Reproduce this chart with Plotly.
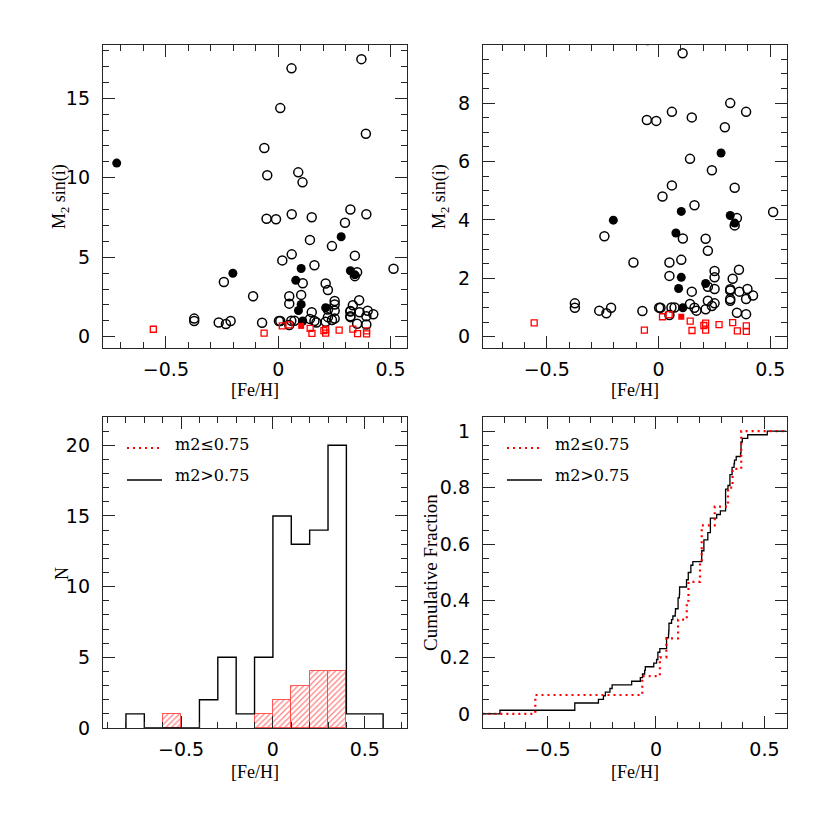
import numpy as np
import plotly.graph_objects as go

# [Fe/H] and M2 sin(i)
# m2 > 0.75, open symbols
feh_open = [0.370, 0.059, 0.009, 0.390, -0.062, 0.089, -0.049,
            0.108, 0.321, 0.392, 0.060, -0.052, -0.010, 0.149, 0.297,
            0.141, 0.239, 0.341, 0.060, 0.018, 0.161, 0.513,
            0.351, 0.341, -0.242, 0.109, 0.211, 0.221, -0.112, 0.049,
            0.102, 0.251, 0.251, 0.360, 0.049, 0.332,
            0.149, 0.221, 0.251, 0.321, 0.321, 0.362, 0.398, 0.423,
            0.321, 0.321, 0.392, 0.221, 0.251, 0.239, 0.211, 0.141,
            0.161, 0.170, 0.351, 0.392,
            -0.374, -0.374, -0.265, -0.233, -0.212, -0.072, 0.003,
            0.009, 0.058, 0.072, 0.049]
msini_open = [17.46, 16.88, 14.38, 12.77, 11.87, 10.34, 10.16,
              9.71, 8.00, 7.70, 7.70, 7.42, 7.39, 7.51, 7.17,
              6.09, 5.70, 5.10, 5.18, 4.80, 4.50, 4.27,
              4.06, 3.81, 3.44, 3.36, 3.35, 2.94, 2.54, 2.54,
              2.63, 2.25, 2.03, 2.29, 2.08, 1.98,
              1.54, 1.71, 1.63, 1.62, 1.58, 1.54, 1.63, 1.41,
              1.29, 1.23, 1.29, 1.23, 1.14, 1.05, 0.94, 1.12,
              0.99, 0.89, 0.82, 0.77,
              1.14, 0.99, 0.89, 0.80, 0.99, 0.88, 0.99,
              0.99, 1.00, 1.00, 0.74]

# m2 > 0.75, filled symbols
feh_filled = [-0.719, 0.280, 0.102, 0.321, 0.341, -0.202, 0.078,
              0.102, 0.211, 0.090, 0.109]
msini_filled = [10.92, 6.29, 4.29, 4.15, 3.89, 3.99, 3.55,
                2.03, 1.82, 1.65, 0.99]

# m2 <= 0.75
feh_low = [-0.556, -0.063, 0.018, 0.048, 0.142, 0.150, 0.203,
           0.211, 0.211, 0.271, 0.332, 0.353, 0.393, 0.393]
msini_low = [0.47, 0.22, 0.68, 0.75, 0.53, 0.21, 0.38,
             0.46, 0.22, 0.41, 0.48, 0.20, 0.37, 0.18]
feh_low_filled = [0.102]
msini_low_filled = [0.68]

bin_edges = np.round(np.arange(-0.8, 0.61, 0.1), 2)

feh_high_all = np.array(feh_open + feh_filled)
feh_low_all = np.array(feh_low + feh_low_filled)

n_high, _ = np.histogram(feh_high_all, bins=bin_edges)
n_low, _ = np.histogram(feh_low_all, bins=bin_edges)
centers = (bin_edges[:-1] + bin_edges[1:]) / 2

# page has an 8px body margin, so the figure is 814 wide and positions
# below are given in screen pixels
W = 814
OFF = 8
def px_x(p):
    return (p - OFF) / W
def px_y(p):
    return 1 - (p - OFF) / W

TICKFONT = dict(family="DejaVu Sans", size=19, color="black")
TITLEFONT = dict(family="Liberation Serif", size=18, color="black")
LINE = "#262626"

def axis(rng, domain, anchor, dtick, minor_dtick, standoff):
    return dict(
        range=rng, domain=domain, anchor=anchor,
        showline=True, mirror="allticks", linecolor=LINE, linewidth=1.4,
        ticks="inside", ticklen=12, tickwidth=1.4, tickcolor=LINE,
        dtick=dtick, tick0=0, tickfont=TICKFONT,
        showgrid=False, zeroline=False, automargin=False,
        ticklabelstandoff=standoff,
        minor=dict(ticks="inside", ticklen=6, tickwidth=1.4, tickcolor=LINE,
                   dtick=minor_dtick, tick0=0, showgrid=False),
    )

fig = go.Figure()

# scatter panels
for xa, ya in (("x", "y"), ("x2", "y2")):
    fig.add_trace(go.Scatter(
        x=feh_open, y=msini_open, mode="markers", xaxis=xa, yaxis=ya,
        marker=dict(symbol="circle-open", size=9, color="black",
                    line=dict(width=1.5, color="black")),
        showlegend=False))
    fig.add_trace(go.Scatter(
        x=feh_filled, y=msini_filled, mode="markers", xaxis=xa, yaxis=ya,
        marker=dict(symbol="circle", size=9, color="black"),
        showlegend=False))
    fig.add_trace(go.Scatter(
        x=feh_low, y=msini_low, mode="markers", xaxis=xa, yaxis=ya,
        marker=dict(symbol="square-open", size=6, color="red",
                    line=dict(width=1.3, color="red")),
        showlegend=False))
    fig.add_trace(go.Scatter(
        x=feh_low_filled, y=msini_low_filled, mode="markers", xaxis=xa, yaxis=ya,
        marker=dict(symbol="square", size=6, color="red"),
        showlegend=False))

# histogram panel
keep = n_low > 0
fig.add_trace(go.Bar(
    x=centers[keep], y=n_low[keep], width=0.1, xaxis="x3", yaxis="y3",
    marker=dict(color="white",
                pattern=dict(shape="/", fgcolor="red", bgcolor="white",
                             size=4, solidity=0.3),
                line=dict(color="rgba(255,60,60,0.85)", width=1)),
    showlegend=False))

step_x = [bin_edges[0]] + list(bin_edges[:-1]) + [bin_edges[-1], bin_edges[-1]]
step_y = [0] + list(n_high) + [n_high[-1], 0]
fig.add_trace(go.Scatter(
    x=step_x, y=step_y, mode="lines", line_shape="hv", xaxis="x3", yaxis="y3",
    line=dict(color="black", width=1.4), showlegend=False))

# cumulative panel
def ecdf(vals, lo, hi):
    s = np.sort(vals)
    n = len(s)
    xs = [lo] + list(s) + [hi]
    ys = [0] + list(np.arange(1, n + 1) / n) + [1]
    return xs, ys

cx, cy = ecdf(feh_high_all, -0.8, 0.6)
fig.add_trace(go.Scatter(
    x=cx, y=cy, mode="lines", line_shape="hv", xaxis="x4", yaxis="y4",
    line=dict(color="black", width=1.3), showlegend=False))
cx, cy = ecdf(feh_low_all, -0.8, 0.6)
fig.add_trace(go.Scatter(
    x=cx, y=cy, mode="lines", line_shape="hv", xaxis="x4", yaxis="y4",
    line=dict(color="red", width=2.2, dash="2px,4px"), showlegend=False))

dom_left = [px_x(103), px_x(407)]
dom_right = [px_x(483), px_x(787)]
dom_top = [px_y(348), px_y(45)]
dom_bot = [px_y(728), px_y(417)]

XS, YS = 4, 8
fig.update_layout(
    width=W, height=W,
    margin=dict(l=0, r=0, t=0, b=0),
    paper_bgcolor="white", plot_bgcolor="white",
    bargap=0,
    xaxis=axis([-0.78, 0.573], dom_left, "y", 0.5, 0.1, XS),
    yaxis=axis([-0.71, 18.35], dom_top, "x", 5, 1, YS),
    xaxis2=axis([-0.785, 0.575], dom_right, "y2", 0.5, 0.1, XS),
    yaxis2=axis([-0.39, 9.99], dom_top, "x2", 2, 0.5, YS),
    xaxis3=axis([-0.925, 0.73], dom_left, "y3", 0.5, 0.1, XS),
    yaxis3=axis([0, 22], dom_bot, "x3", 5, 1, YS),
    xaxis4=axis([-0.797, 0.604], dom_right, "y4", 0.5, 0.1, XS),
    yaxis4=axis([-0.05, 1.05], dom_bot, "x4", 0.2, 0.05, YS),
)

# axis titles
def label(text, x, y, angle=0, font=TITLEFONT):
    fig.add_annotation(text=text, x=px_x(x), y=px_y(y), xref="paper", yref="paper",
                       showarrow=False, textangle=angle, font=font,
                       xanchor="center", yanchor="middle")

label("M<sub>2</sub> sin(i)", 61, 197, -90)
label("M<sub>2</sub> sin(i)", 441, 197, -90)
label("[Fe/H]", 255, 390)
label("[Fe/H]", 635, 390)
label("[Fe/H]", 255, 772)
label("[Fe/H]", 635, 772)
label("N", 62, 573, -90)
label("Cumulative Fraction", 430, 573, -90, dict(family="Liberation Serif", size=19, color="black"))

# in-panel keys
LEGFONT = dict(family="DejaVu Serif", size=16, color="black")
for x0 in (127, 507):
    fig.add_shape(type="line", xref="paper", yref="paper",
                  x0=px_x(x0), x1=px_x(x0 + 35), y0=px_y(448), y1=px_y(448),
                  line=dict(color="red", width=2, dash="2px,4px"))
    fig.add_shape(type="line", xref="paper", yref="paper",
                  x0=px_x(x0), x1=px_x(x0 + 35), y0=px_y(480), y1=px_y(480),
                  line=dict(color="black", width=1.3))
    fig.add_annotation(text="m2≤0.75", x=px_x(x0 + 46), y=px_y(444),
                       xref="paper", yref="paper", showarrow=False,
                       xanchor="left", yanchor="middle", font=LEGFONT)
    fig.add_annotation(text="m2>0.75", x=px_x(x0 + 46), y=px_y(475),
                       xref="paper", yref="paper", showarrow=False,
                       xanchor="left", yanchor="middle", font=LEGFONT)

fig.write_html("out.html")
